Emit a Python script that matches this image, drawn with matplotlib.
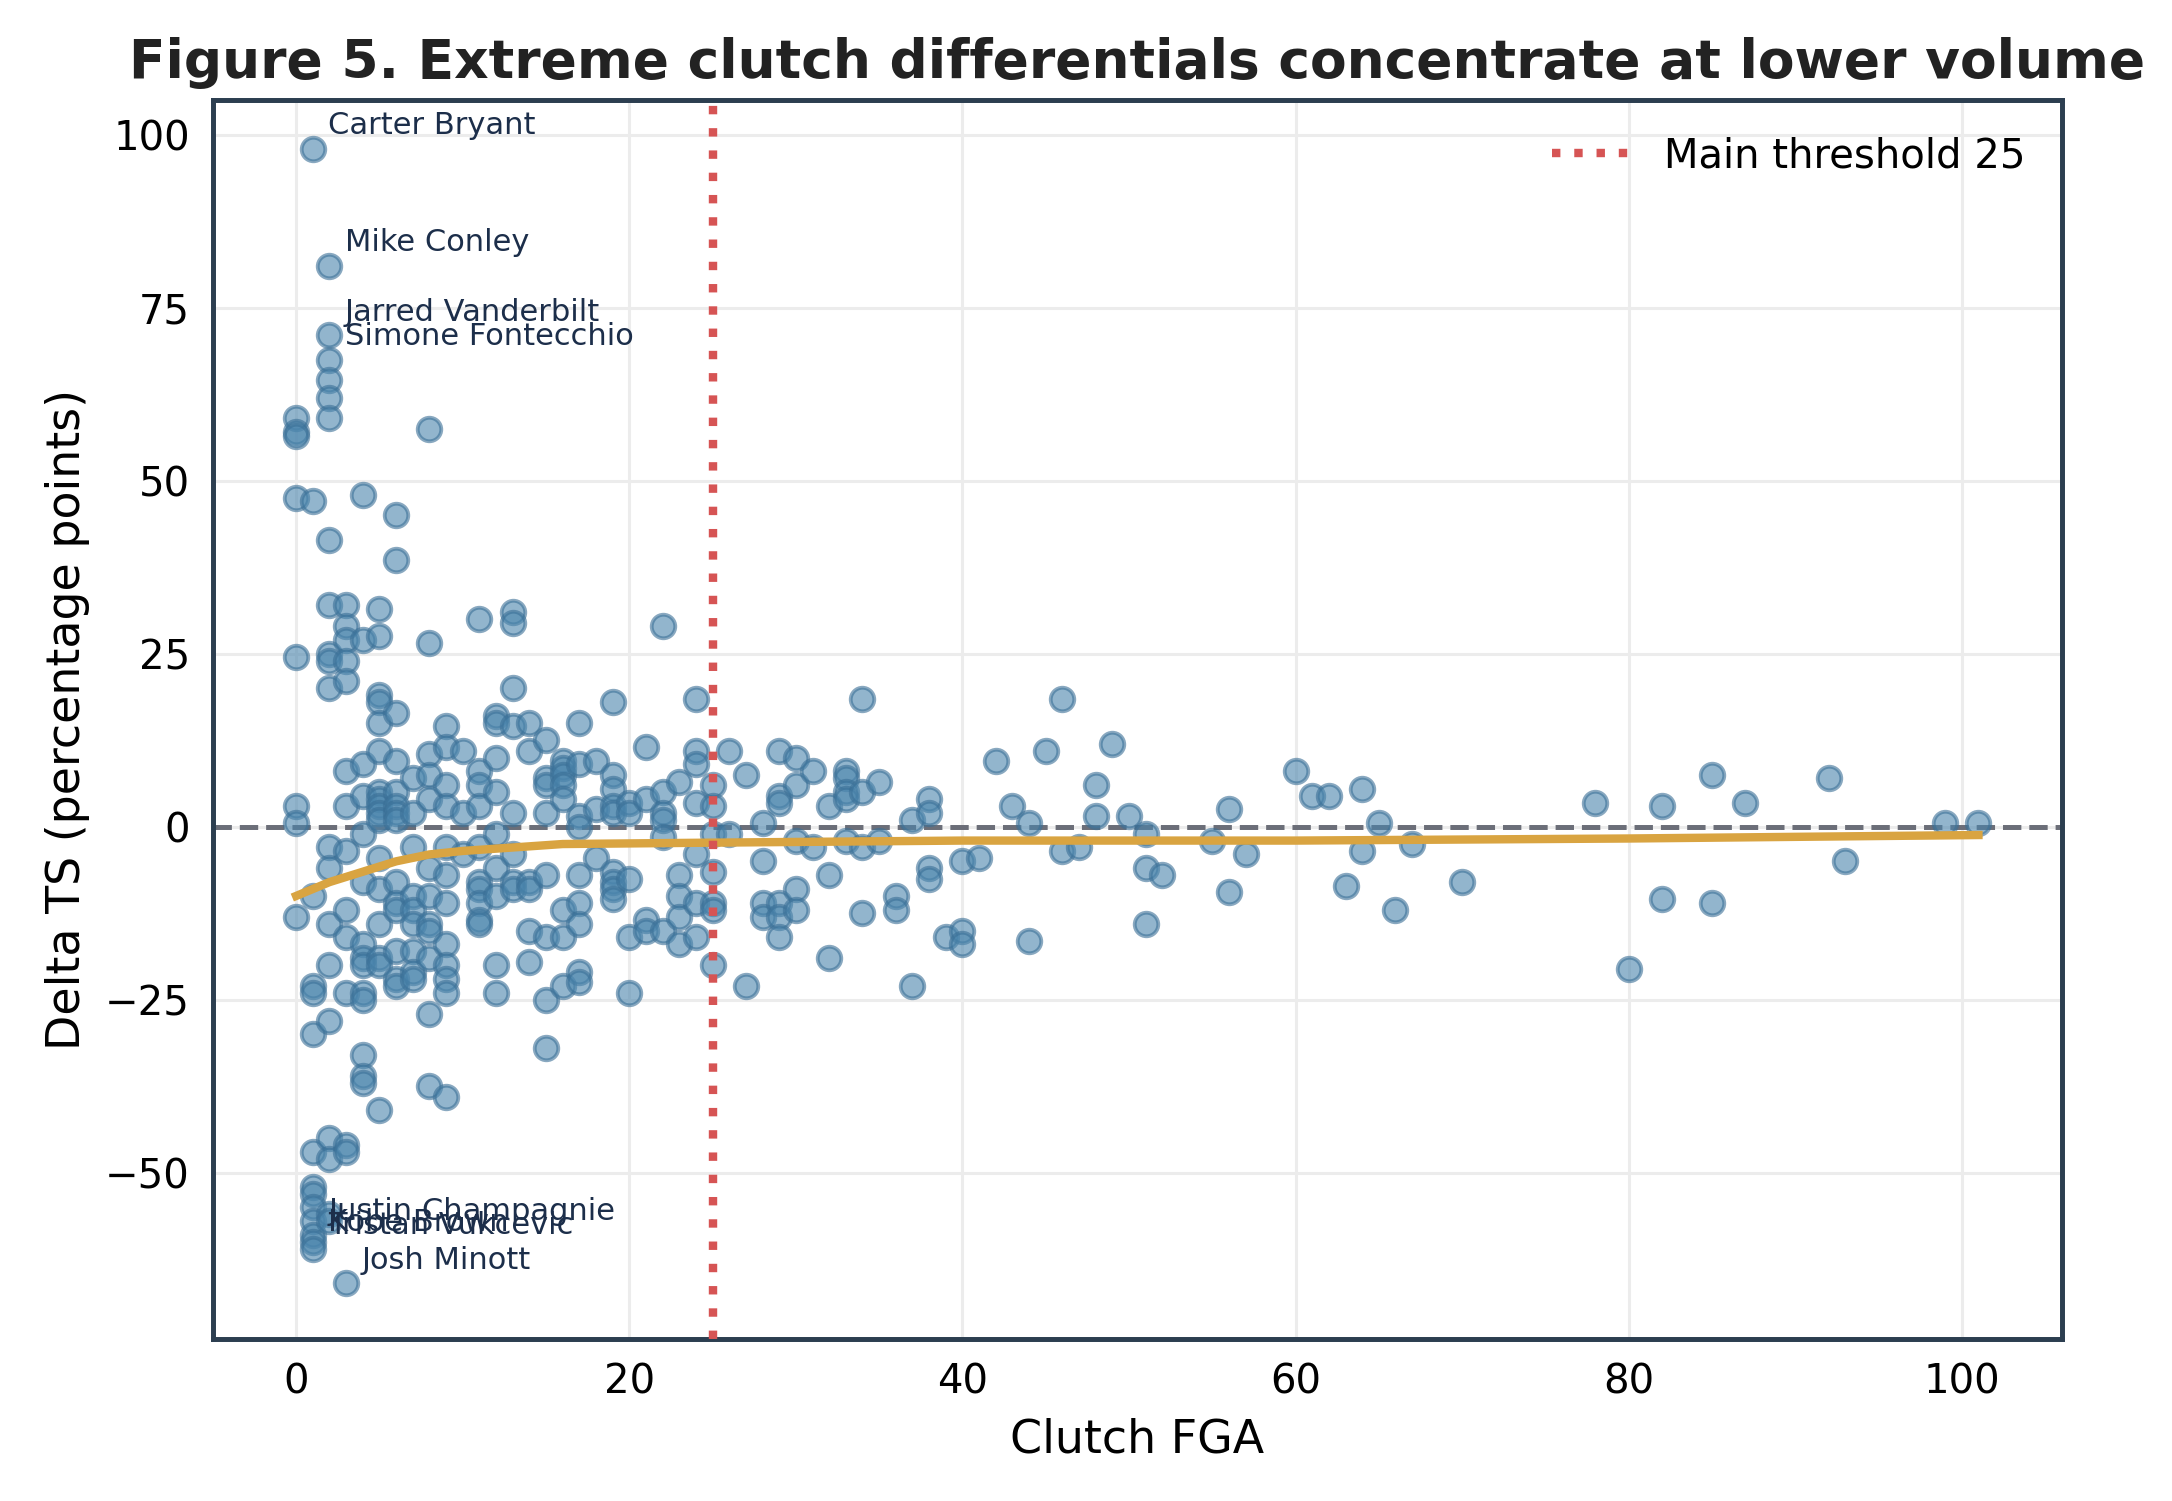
import numpy as np
import matplotlib
matplotlib.use("Agg")
import matplotlib.pyplot as plt

# ── data ──────────────────────────────────────────────────────────────────────
cols = {
    0: [59, 57, 56.5, 47.5, 24.5, 3, 0.5, -13],
    1: [98, 47, -10, -23, -24, -30, -47, -52, -53, -55, -57, -59, -60, -61],
    2: [81, 71, 67.5, 64.5, 62, 59, 41.5, 32, 25, 24, 20, -3, -6, -14, -20, -28, -45, -48, -56, -57],
    3: [32, 29, 27, 24, 21, 8, 3, -3.5, -12, -16, -24, -46, -47, -66],
    4: [48, 27, 9, 4.5, -1, -8, -17, -19, -20, -24, -25, -33, -36, -37],
    5: [31.5, 27.5, 19, 18, 15, 11, 5, 4, 3, 2, 1, -4.5, -9, -14, -19, -20, -41],
    6: [45, 38.5, 16.5, 9.5, 5, 3, 2, 1, -8, -11, -12, -18, -22, -23],
    7: [7, 2, -3, -10, -12, -14, -18, -21, -22],
    8: [57.5, 26.5, 10.5, 7.5, 4, -6, -10, -14, -15, -19, -27, -37.5],
    9: [14.5, 11.5, 6, 3, -3, -7, -11, -17, -20, -22, -24, -39],
    10: [11, 2, -4],
    11: [30, 8, 6, 3, -3, -8, -9, -11, -13.5, -14],
    12: [16, 15, 10, 5, -1, -6, -10, -20, -24],
    13: [31, 29.5, 20, 14.5, 2, -4, -8, -9],
    14: [15, 11, -8, -9, -15, -19.5],
    15: [12.5, 7, 6, 2, -7, -16, -25, -32],
    16: [9.5, 8.5, 7.5, 6, 4, -12, -16, -23],
    17: [15, 9, 1.5, 0, -7, -11, -14, -21, -22.5],
    18: [9.5, 2.5, -4.5],
    19: [18, 7.5, 5.5, 3, 2, -6.5, -8, -9, -10.5],
    20: [3.5, 2, -7.5, -16, -24],
    21: [11.5, 4, -13.5, -15],
    22: [29, 5, 2, 1, -1.5, -15],
    23: [6.5, -7, -10, -13, -17],
    24: [18.5, 11, 9, 3.5, -4, -11, -16],
    25: [6, 3, -1, -6.5, -11, -12, -20],
    26: [11, -1], 27: [7.5, -23], 28: [0.5, -5, -11, -13],
    29: [11, 4.5, 3.5, -11, -13, -16], 30: [10, 6, -2, -9, -12],
    31: [8, -3], 32: [3, -7, -19], 33: [8, 7, 5, 4, -2],
    34: [18.5, 5, -3, -12.5], 35: [6.5, -2], 36: [-10, -12], 37: [1, -23],
    38: [4, 2, -6, -7.5], 39: [-16], 40: [-5, -15, -17], 41: [-4.5],
    42: [9.5], 43: [3], 44: [0.5, -16.5], 45: [11], 46: [18.5, -3.5],
    47: [-3], 48: [6, 1.5], 49: [12], 50: [1.5], 51: [-1, -6, -14],
    52: [-7], 55: [-2], 56: [2.5, -9.5], 57: [-4], 60: [8], 61: [4.5],
    62: [4.5], 63: [-8.5], 64: [5.5, -3.5], 65: [0.5], 66: [-12],
    67: [-2.5], 70: [-8], 78: [3.5], 80: [-20.5], 82: [3, -10.5],
    85: [7.5, -11], 87: [3.5], 92: [7], 93: [-5], 99: [0.5], 101: [0.5],
}
fga = np.array([x for x, ys in cols.items() for _ in ys], dtype=float)
delta = np.array([y for ys in cols.values() for y in ys], dtype=float)

trend_x = [0, 2, 4, 6, 8, 10, 13, 16, 25, 40, 60, 80, 101]
trend_y = [-10, -8, -6.5, -5, -4, -3.5, -3, -2.5, -2.3, -2, -2, -1.7, -1.2]

names = ["Carter Bryant", "Mike Conley", "Jarred Vanderbilt", "Simone Fontecchio",
         "Justin Champagnie", "Kobe Brown", "Tristan Vukcevic", "Josh Minott"]
name_x = [1, 2, 2, 2, 1, 1, 1, 3]
name_y = [98, 81, 71, 67.5, -59, -60.5, -61, -66]

threshold = 25

# ── plot ──────────────────────────────────────────────────────────────────────
fig, ax = plt.subplots(figsize=(7.9, 5.46), dpi=275)
fig.subplots_adjust(left=0.098, right=0.949, top=0.933, bottom=0.108)
ax.grid(True, color="#ececec", lw=0.8)
ax.set_axisbelow(True)
ax.scatter(fga, delta, s=38, color="#4a85ad", alpha=0.6,
           edgecolor="#3a6f96", linewidth=1.0, zorder=2)
ax.plot(trend_x, trend_y, color="#d9a441", lw=2.2, zorder=3)
ax.axhline(0, color="#6b6e78", lw=1.3, ls="--", zorder=1)
ax.axvline(threshold, color="#d65454", lw=2.2, ls=":", zorder=4,
           label=f"Main threshold {threshold}")
for n, x, y in zip(names, name_x, name_y):
    ax.annotate(n, (x, y), xytext=(4, 4), textcoords="offset points",
                fontsize=8, color="#1c2e4a")

ax.set_xlim(-5, 106)
ax.set_ylim(-74, 105)
ax.set_yticks([-50, -25, 0, 25, 50, 75, 100])
ax.set_xlabel("Clutch FGA", fontsize=12)
ax.set_ylabel("Delta TS (percentage points)", fontsize=12)
ax.set_title("Figure 5. Extreme clutch differentials concentrate at lower volume",
             fontsize=14, fontweight="bold", color="#222222")
for s in ax.spines.values():
    s.set_color("#2c3e50")
    s.set_linewidth(1.3)
ax.tick_params(labelsize=10.5, length=0, pad=6)
ax.legend(loc="upper right", frameon=False, fontsize=10.5)
fig.savefig("out.png")
